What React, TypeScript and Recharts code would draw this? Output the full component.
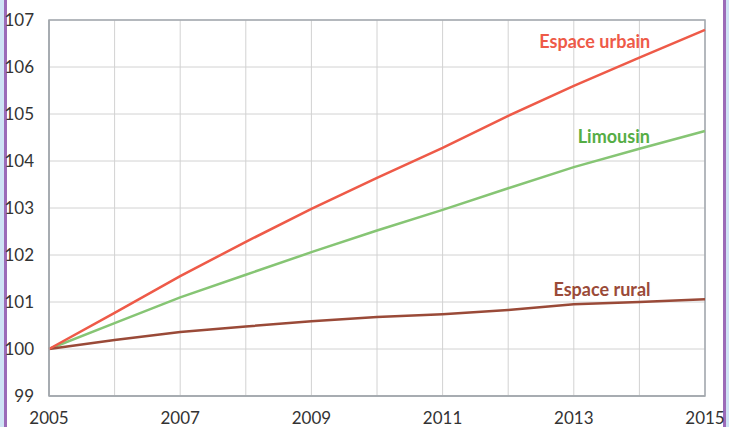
import { LineChart, Line, XAxis, YAxis, CartesianGrid, ReferenceArea, ReferenceDot } from 'recharts';

// Indice base 100 en 2005
const years = [2005, 2006, 2007, 2008, 2009, 2010, 2011, 2012, 2013, 2014, 2015];
const urbain = [100, 100.77, 101.55, 102.28, 102.98, 103.64, 104.28, 104.96, 105.6, 106.2, 106.79];
const limousin = [100, 100.55, 101.1, 101.58, 102.06, 102.52, 102.96, 103.42, 103.87, 104.26, 104.64];
const rural = [100, 100.19, 100.36, 100.48, 100.59, 100.68, 100.74, 100.83, 100.95, 101.0, 101.06];
const yTicks = [99, 100, 101, 102, 103, 104, 105, 106, 107];

const data = years.map((year, i) => ({
  year,
  urbain: urbain[i],
  limousin: limousin[i],
  rural: rural[i],
}));

const FONT = 'Lato, "Open Sans", sans-serif';

const seriesLabel = (text: string, color: string) => ({
  value: text,
  position: 'center' as const,
  fill: color,
  fontSize: 18,
  fontWeight: 700,
  fontFamily: FONT,
});

export default function App() {
  return (
    <div style={{ position: 'absolute', left: 0, top: 0, width: 729, height: 427, background: '#fff', overflow: 'hidden' }}>
      {/* cadre violet */}
      <div style={{ position: 'absolute', left: 0, top: 0, width: 4, height: 427, background: '#cfe3f5' }} />
      <div style={{ position: 'absolute', left: 4, top: 0, width: 3, height: 427, background: '#9b6bb8' }} />
      <div style={{ position: 'absolute', left: 723, top: 0, width: 3, height: 427, background: '#9b6bb8' }} />
      <div style={{ position: 'absolute', left: 726, top: 0, width: 3, height: 427, background: '#cfe3f5' }} />
      <LineChart
        width={729}
        height={427}
        data={data}
        margin={{ top: 20, right: 24, bottom: 0, left: 0 }}
        style={{ position: 'absolute', left: 0, top: 0 }}
      >
        <CartesianGrid stroke="#d2d2d2" strokeWidth={1} />
        <XAxis
          dataKey="year"
          type="number"
          domain={[2005, 2015]}
          ticks={years}
          interval={0}
          tickFormatter={(v: number) => (v % 2 === 1 ? String(v) : '')}
          tickLine={false}
          axisLine={{ stroke: '#a3a8ae', strokeWidth: 1.5 }}
          height={31}
          tickMargin={10}
          tick={{ fill: '#333', fontSize: 17, fontFamily: FONT }}
        />
        <YAxis
          type="number"
          domain={[99, 107]}
          ticks={yTicks}
          interval={0}
          tickLine={false}
          axisLine={{ stroke: '#a3a8ae', strokeWidth: 1.5 }}
          width={49}
          tickMargin={9}
          tick={{ fill: '#333', fontSize: 17, fontFamily: FONT }}
        />
        <ReferenceArea x1={2005} x2={2015} y1={99} y2={107} fill="none" stroke="#a3a8ae" strokeWidth={1.5} />
        <Line type="linear" dataKey="limousin" stroke="#86c574" strokeWidth={2.5} dot={false} isAnimationActive={false} />
        <Line type="linear" dataKey="rural" stroke="#9a4a38" strokeWidth={2.5} dot={false} isAnimationActive={false} />
        <Line type="linear" dataKey="urbain" stroke="#ee5a48" strokeWidth={2.5} dot={false} isAnimationActive={false} />
        <ReferenceDot x={2013.32} y={106.53} r={0} stroke="none" label={seriesLabel('Espace urbain', '#ee5a48')} />
        <ReferenceDot x={2013.61} y={104.51} r={0} stroke="none" label={seriesLabel('Limousin', '#55ad45')} />
        <ReferenceDot x={2013.43} y={101.26} r={0} stroke="none" label={seriesLabel('Espace rural', '#9a4a38')} />
      </LineChart>
    </div>
  );
}
